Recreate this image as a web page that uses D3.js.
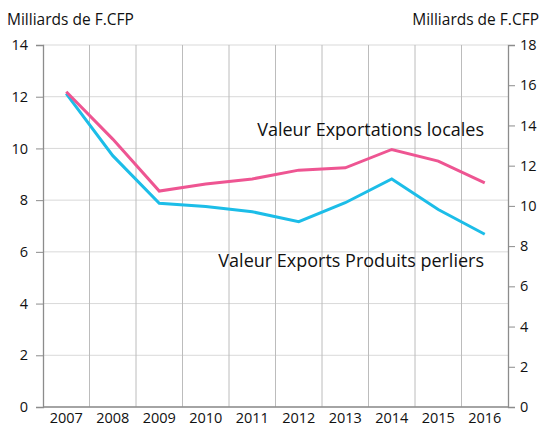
<!DOCTYPE html>
<html>
<head>
<meta charset="utf-8">
<script src="https://cdn.jsdelivr.net/npm/d3@7"></script>
<style>
  body { margin: 0; background: #fff; }
  svg { font-family: "Open Sans", sans-serif; }
</style>
</head>
<body>
<div id="chart"></div>
<script>
// years on the x axis
const years = ["2007", "2008", "2009", "2010", "2011", "2012", "2013", "2014", "2015", "2016"];
// values, in Milliards de F.CFP
const exportationsLocales = [12.19, 10.36, 8.35, 8.62, 8.82, 9.16, 9.25, 9.96, 9.51, 8.67];
const produitsPerliers = [12.12, 9.72, 7.88, 7.75, 7.55, 7.17, 7.9, 8.82, 7.64, 6.68];
const leftTicks = [0, 2, 4, 6, 8, 10, 12, 14];
const rightTicks = [0, 2, 4, 6, 8, 10, 12, 14, 16, 18];

const width = 542, height = 430;
const margin = { top: 45, right: 34, bottom: 23, left: 43 };

const svg = d3.select("#chart").append("svg")
  .attr("width", width)
  .attr("height", height);

const x = d3.scaleBand().domain(years).range([margin.left, width - margin.right]);
const y = d3.scaleLinear().domain([0, 14]).range([height - margin.bottom, margin.top]);
const y2 = d3.scaleLinear().domain([0, 18]).range([height - margin.bottom, margin.top]);

// horizontal grid (left scale)
svg.append("g")
  .selectAll("line")
  .data(leftTicks)
  .join("line")
  .attr("x1", margin.left)
  .attr("x2", width - margin.right)
  .attr("y1", d => y(d))
  .attr("y2", d => y(d))
  .attr("stroke", "#d9d9d9")
  .attr("stroke-width", 1);

// vertical grid at band edges
svg.append("g")
  .selectAll("line")
  .data(years.slice(1))
  .join("line")
  .attr("x1", d => x(d))
  .attr("x2", d => x(d))
  .attr("y1", y(0))
  .attr("y2", y(14))
  .attr("stroke", "#bcbcbc")
  .attr("stroke-width", 1);

// left axis
const leftAxis = svg.append("g")
  .attr("transform", `translate(${margin.left},0)`)
  .call(d3.axisLeft(y).tickValues(leftTicks).tickSize(7).tickPadding(8));

// right axis
const rightAxis = svg.append("g")
  .attr("transform", `translate(${width - margin.right},0)`)
  .call(d3.axisRight(y2).tickValues(rightTicks).tickSize(7).tickPadding(5));

// bottom axis
const bottomAxis = svg.append("g")
  .attr("transform", `translate(0,${y(0)})`)
  .call(d3.axisBottom(x).tickSize(0).tickPadding(6));

[leftAxis, rightAxis, bottomAxis].forEach(g => {
  g.select(".domain").attr("stroke", "#8c8c8c").attr("stroke-width", 1.3);
  g.selectAll(".tick line").attr("stroke", "#8c8c8c");
  g.selectAll("text").attr("fill", "#111").style("font-size", "14.5px")
    .style("font-family", "'Open Sans', sans-serif");
});
bottomAxis.select(".domain").attr("d", `M${margin.left},0H${width - margin.right}`);

// axis titles
svg.append("text")
  .attr("x", 7).attr("y", 25)
  .attr("fill", "#111").style("font-size", "15.5px")
  .text("Milliards de F.CFP");
svg.append("text")
  .attr("x", 539).attr("y", 25)
  .attr("text-anchor", "end")
  .attr("fill", "#111").style("font-size", "15.5px")
  .text("Milliards de F.CFP");

const line = d3.line()
  .x((d, i) => x(years[i]) + x.bandwidth() / 2)
  .y(d => y(d));

svg.append("path")
  .datum(produitsPerliers)
  .attr("fill", "none")
  .attr("stroke", "#1cbde8")
  .attr("stroke-width", 3)
  .attr("d", line);

svg.append("path")
  .datum(exportationsLocales)
  .attr("fill", "none")
  .attr("stroke", "#ee5592")
  .attr("stroke-width", 3)
  .attr("d", line);

// series labels
svg.append("text")
  .attr("x", 484).attr("y", 136)
  .attr("text-anchor", "end")
  .attr("fill", "#111").style("font-size", "18px")
  .text("Valeur Exportations locales");
svg.append("text")
  .attr("x", 484).attr("y", 267)
  .attr("text-anchor", "end")
  .attr("fill", "#111").style("font-size", "18px")
  .text("Valeur Exports Produits perliers");
</script>
</body>
</html>
